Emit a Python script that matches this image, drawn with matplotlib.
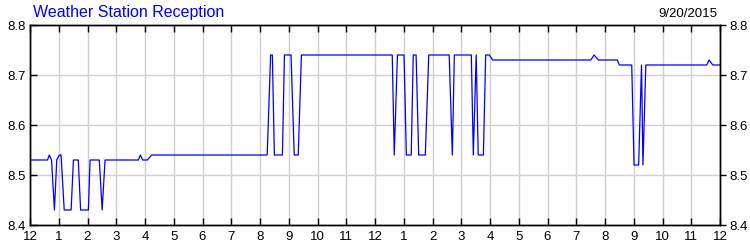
import matplotlib.pyplot as plt

plt.rcParams['font.family'] = ['Liberation Sans', 'DejaVu Sans']

# hours since midnight and signal value
hours = [0.00, 0.61, 0.67, 0.75, 0.85, 0.93, 1.02, 1.08, 1.19, 1.43, 1.51, 1.68,
         1.76, 2.03, 2.09, 2.41, 2.51, 2.61, 3.77, 3.84, 3.92, 4.08, 4.23,
         8.25, 8.37, 8.43, 8.50, 8.78, 8.85, 9.08, 9.19, 9.33, 9.44,
         12.60, 12.67, 12.78, 13.01, 13.09, 13.26, 13.33, 13.43, 13.52, 13.75,
         13.87, 14.58, 14.69, 14.76, 15.35, 15.42, 15.52, 15.59, 15.77, 15.85,
         15.98, 16.09, 19.51, 19.62, 19.77, 20.43, 20.50, 20.93, 21.01, 21.17,
         21.27, 21.32, 21.42, 23.54, 23.62, 23.75, 24.00]
values = [8.53, 8.53, 8.54, 8.53, 8.43, 8.53, 8.54, 8.54, 8.43, 8.43, 8.53, 8.53,
          8.43, 8.43, 8.53, 8.53, 8.43, 8.53, 8.53, 8.54, 8.53, 8.53, 8.54,
          8.54, 8.74, 8.74, 8.54, 8.54, 8.74, 8.74, 8.54, 8.54, 8.74,
          8.74, 8.54, 8.74, 8.74, 8.54, 8.54, 8.74, 8.74, 8.54, 8.54,
          8.74, 8.74, 8.54, 8.74, 8.74, 8.54, 8.74, 8.54, 8.54, 8.74,
          8.74, 8.73, 8.73, 8.74, 8.73, 8.73, 8.72, 8.72, 8.52, 8.52,
          8.72, 8.52, 8.72, 8.72, 8.73, 8.72, 8.72]

xtick_labels = ['12'] + [str(h) for h in range(1, 12)] + ['12'] + [str(h) for h in range(1, 12)] + ['12']
yticks = [8.4, 8.5, 8.6, 8.7, 8.8]

fig = plt.figure(figsize=(7.5, 2.5), dpi=100)
ax = fig.add_axes([0.04, 0.1, 0.92, 0.8])

ax.plot(hours, values, color='#0000ff', linewidth=0.9)

ax.set_xlim(0, 24)
ax.set_ylim(8.4, 8.8)
ax.set_xticks(range(25))
ax.set_xticklabels(xtick_labels)
ax.set_yticks(yticks)
ax.set_yticklabels([f'{v:.1f}' for v in yticks])
ax.grid(True, color='#d0d0d0', linewidth=1)
ax.set_axisbelow(True)

ax.tick_params(axis='x', direction='in', top=True, length=5, width=1,
               labelsize=9.5, pad=4)
ax.tick_params(axis='y', direction='in', left=True, length=5, width=1,
               labelsize=9.5, pad=3)

# right-hand axis with the same labels
ax2 = ax.twinx()
ax2.set_ylim(8.4, 8.8)
ax2.set_yticks(yticks)
ax2.set_yticklabels([f'{v:.1f}' for v in yticks])
ax2.tick_params(axis='y', direction='out', length=4, width=1, labelsize=9.5, pad=3)

for a in (ax, ax2):
    for s in a.spines.values():
        s.set_linewidth(1)
        s.set_color('black')

fig.text(0.044, 0.93, 'Weather Station Reception', color='#0000ff', fontsize=11.5,
         ha='left', va='baseline')
fig.text(0.957, 0.932, '9/20/2015', color='black', fontsize=9.5, ha='right', va='baseline')

fig.savefig('out.png', dpi=100)
